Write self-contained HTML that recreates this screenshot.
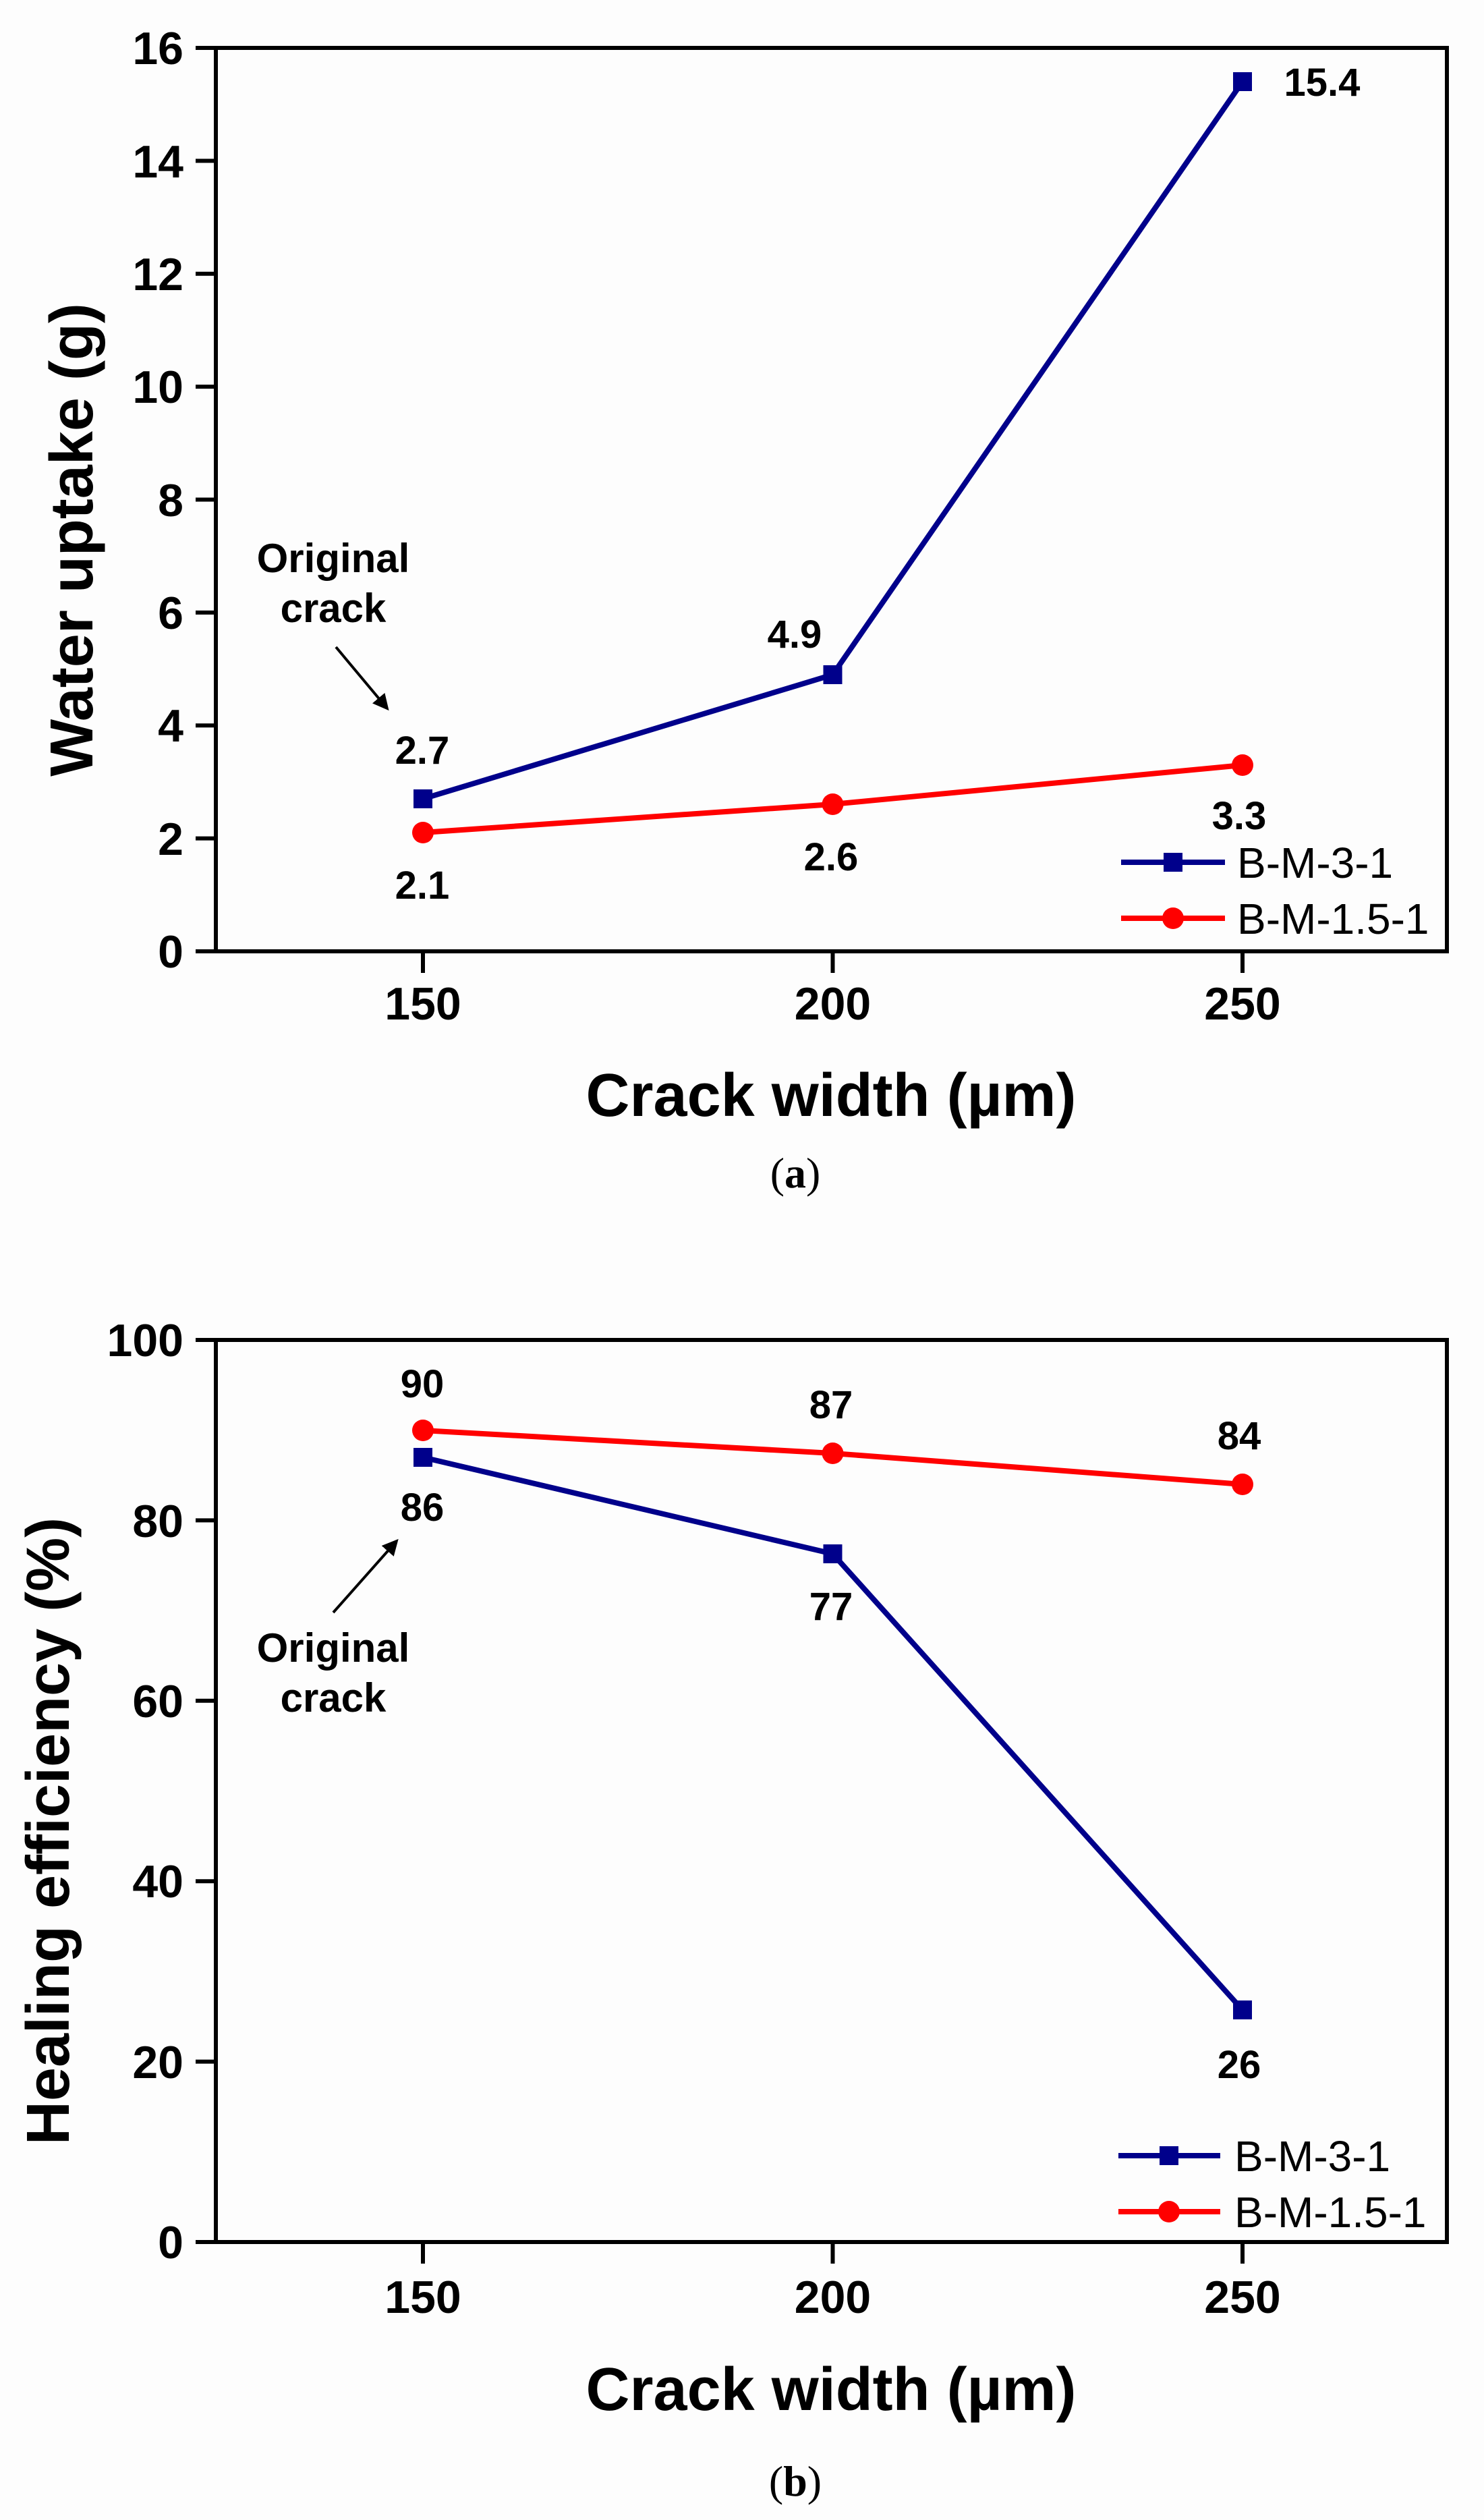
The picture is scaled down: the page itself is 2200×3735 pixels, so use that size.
<!DOCTYPE html>
<html><head><meta charset="utf-8"><style>
html,body{margin:0;padding:0;background:#fdfdfd;}
svg{display:block;}
text{font-family:"Liberation Sans",Arial,sans-serif;fill:#000;}
.b{font-weight:bold;}
</style></head><body>
<svg width="2200" height="3735" viewBox="0 0 2200 3735" xmlns="http://www.w3.org/2000/svg">
<defs>
<marker id="ah" markerWidth="6" markerHeight="6" refX="5" refY="3" orient="auto" markerUnits="strokeWidth">
<path d="M0,0 L6,3 L0,6 Z" fill="#000"/>
</marker>
</defs>

<!-- ============ CHART A ============ -->
<g stroke="#000" stroke-width="6" fill="none">
<rect x="320" y="71" width="1825" height="1339"/>
</g>
<g stroke="#000" stroke-width="6">
<line x1="290" y1="1410" x2="320" y2="1410"/>
<line x1="290" y1="1242.6" x2="320" y2="1242.6"/>
<line x1="290" y1="1075.2" x2="320" y2="1075.2"/>
<line x1="290" y1="907.9" x2="320" y2="907.9"/>
<line x1="290" y1="740.5" x2="320" y2="740.5"/>
<line x1="290" y1="573.1" x2="320" y2="573.1"/>
<line x1="290" y1="405.8" x2="320" y2="405.8"/>
<line x1="290" y1="238.4" x2="320" y2="238.4"/>
<line x1="290" y1="71" x2="320" y2="71"/>
<line x1="627" y1="1410" x2="627" y2="1442"/>
<line x1="1234.5" y1="1410" x2="1234.5" y2="1442"/>
<line x1="1842" y1="1410" x2="1842" y2="1442"/>
</g>
<g class="b" font-size="68" text-anchor="end">
<text x="272" y="1434">0</text>
<text x="272" y="1267">2</text>
<text x="272" y="1099">4</text>
<text x="272" y="932">6</text>
<text x="272" y="765">8</text>
<text x="272" y="597">10</text>
<text x="272" y="430">12</text>
<text x="272" y="263">14</text>
<text x="272" y="95">16</text>
</g>
<g class="b" font-size="68" text-anchor="middle">
<text x="627" y="1511">150</text>
<text x="1234.5" y="1511">200</text>
<text x="1842" y="1511">250</text>
</g>
<text class="b" font-size="90" text-anchor="middle" x="1232" y="1654">Crack width (µm)</text>
<text class="b" font-size="90" text-anchor="middle" transform="translate(137,800) rotate(-90)">Water uptake (g)</text>
<text font-size="64" text-anchor="middle" x="1179" y="1760" style="font-family:'Liberation Serif',serif">(<tspan font-weight="bold">a</tspan>)</text>

<!-- series a -->
<polyline points="627,1184 1234.5,1000 1842,121" fill="none" stroke="#00008b" stroke-width="8"/>
<polyline points="627,1234 1234.5,1192 1842,1134" fill="none" stroke="#ff0000" stroke-width="8"/>
<g fill="#00008b">
<rect x="613" y="1170" width="28" height="28"/>
<rect x="1220.5" y="986" width="28" height="28"/>
<rect x="1828" y="107" width="28" height="28"/>
</g>
<g fill="#ff0000">
<circle cx="627" cy="1234" r="16"/>
<circle cx="1234.5" cy="1192" r="16"/>
<circle cx="1842" cy="1134" r="16"/>
</g>
<g class="b" font-size="58" text-anchor="middle">
<text x="1960" y="142">15.4</text>
<text x="1178" y="960">4.9</text>
<text x="626" y="1132">2.7</text>
<text x="626" y="1332">2.1</text>
<text x="1232" y="1290">2.6</text>
<text x="1837" y="1229">3.3</text>
</g>
<g class="b" font-size="60" text-anchor="middle">
<text x="494" y="848">Original</text>
<text x="494" y="922">crack</text>
</g>
<line x1="498" y1="959" x2="574" y2="1050" stroke="#000" stroke-width="4" marker-end="url(#ah)"/>
<!-- legend a -->
<line x1="1662" y1="1278" x2="1816" y2="1278" stroke="#00008b" stroke-width="8"/>
<rect x="1725" y="1264" width="28" height="28" fill="#00008b"/>
<line x1="1662" y1="1361" x2="1816" y2="1361" stroke="#ff0000" stroke-width="8"/>
<circle cx="1739" cy="1361" r="16" fill="#ff0000"/>
<text font-size="64" x="1834" y="1301">B-M-3-1</text>
<text font-size="64" x="1834" y="1384">B-M-1.5-1</text>

<!-- ============ CHART B ============ -->
<g stroke="#000" stroke-width="6" fill="none">
<rect x="320" y="1986" width="1825" height="1337"/>
</g>
<g stroke="#000" stroke-width="6">
<line x1="290" y1="3323" x2="320" y2="3323"/>
<line x1="290" y1="3055.6" x2="320" y2="3055.6"/>
<line x1="290" y1="2788.2" x2="320" y2="2788.2"/>
<line x1="290" y1="2520.8" x2="320" y2="2520.8"/>
<line x1="290" y1="2253.4" x2="320" y2="2253.4"/>
<line x1="290" y1="1986" x2="320" y2="1986"/>
<line x1="627" y1="3323" x2="627" y2="3355"/>
<line x1="1234.5" y1="3323" x2="1234.5" y2="3355"/>
<line x1="1842" y1="3323" x2="1842" y2="3355"/>
</g>
<g class="b" font-size="68" text-anchor="end">
<text x="272" y="3347">0</text>
<text x="272" y="3080">20</text>
<text x="272" y="2812">40</text>
<text x="272" y="2545">60</text>
<text x="272" y="2278">80</text>
<text x="272" y="2010">100</text>
</g>
<g class="b" font-size="68" text-anchor="middle">
<text x="627" y="3428">150</text>
<text x="1234.5" y="3428">200</text>
<text x="1842" y="3428">250</text>
</g>
<text class="b" font-size="90" text-anchor="middle" x="1232" y="3572">Crack width (µm)</text>
<text class="b" font-size="90" text-anchor="middle" transform="translate(102,2714) rotate(-90)">Healing efficiency (%)</text>
<text font-size="64" text-anchor="middle" x="1179" y="3699" style="font-family:'Liberation Serif',serif">(<tspan font-weight="bold">b</tspan>)</text>

<polyline points="627,2160 1234.5,2303 1842,2979" fill="none" stroke="#00008b" stroke-width="8"/>
<polyline points="627,2120 1234.5,2154 1842,2200" fill="none" stroke="#ff0000" stroke-width="8"/>
<g fill="#00008b">
<rect x="613" y="2146" width="28" height="28"/>
<rect x="1220.5" y="2289" width="28" height="28"/>
<rect x="1828" y="2965" width="28" height="28"/>
</g>
<g fill="#ff0000">
<circle cx="627" cy="2120" r="16"/>
<circle cx="1234.5" cy="2154" r="16"/>
<circle cx="1842" cy="2200" r="16"/>
</g>
<g class="b" font-size="58" text-anchor="middle">
<text x="626" y="2071">90</text>
<text x="626" y="2254">86</text>
<text x="1232" y="2102">87</text>
<text x="1837" y="2148">84</text>
<text x="1232" y="2401">77</text>
<text x="1837" y="3080">26</text>
</g>
<g class="b" font-size="60" text-anchor="middle">
<text x="494" y="2463">Original</text>
<text x="494" y="2537">crack</text>
</g>
<line x1="494" y1="2390" x2="588" y2="2284" stroke="#000" stroke-width="4" marker-end="url(#ah)"/>
<!-- legend b -->
<line x1="1658" y1="3195" x2="1809" y2="3195" stroke="#00008b" stroke-width="8"/>
<rect x="1719" y="3181" width="28" height="28" fill="#00008b"/>
<line x1="1658" y1="3278" x2="1809" y2="3278" stroke="#ff0000" stroke-width="8"/>
<circle cx="1733" cy="3278" r="16" fill="#ff0000"/>
<text font-size="64" x="1830" y="3218">B-M-3-1</text>
<text font-size="64" x="1830" y="3301">B-M-1.5-1</text>
</svg>
</body></html>
